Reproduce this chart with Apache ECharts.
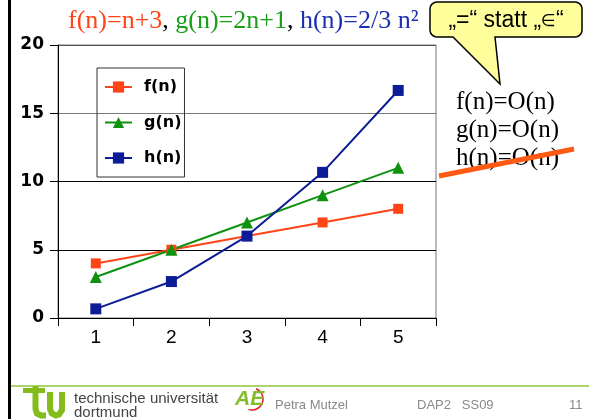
<!DOCTYPE html>
<html>
<head>
<meta charset="utf-8">
<script src="https://cdn.jsdelivr.net/npm/echarts@6/dist/echarts.min.js"></script>
<style>
  html, body { margin: 0; padding: 0; background: #fff; }
  #chart { width: 589px; height: 419px; }
</style>
</head>
<body>
<div id="chart"></div>
<script>
// values
const categories = ['1', '2', '3', '4', '5'];
const fValues = [4, 5, 6, 7, 8];
const gValues = [3, 5, 7, 9, 11];
const hValues = [0.67, 2.67, 6, 10.67, 16.67];
const seriesNames = ['f(n)', 'g(n)', 'h(n)'];
const rightNotes = ['f(n)=O(n)', 'g(n)=O(n)', 'h(n)=O(n)'];

const RED = '#ff4418';
const GREEN = '#0f920f';
const BLUE = '#0c1c96';
const SERIF = '"Liberation Serif", "DejaVu Serif", serif';
const SANS = '"Liberation Sans", Arial, sans-serif';

// rounded box with a tail, as a point list for a polygon
function bubblePoints(x0, y0, x1, y1, r, tail) {
  var pts = [];
  function corner(cx, cy, a0) {
    for (var i = 0; i <= 6; i++) {
      var a = a0 + (Math.PI / 2) * (i / 6);
      pts.push([cx + r * Math.cos(a), cy + r * Math.sin(a)]);
    }
  }
  corner(x0 + r, y0 + r, Math.PI);
  corner(x1 - r, y0 + r, -Math.PI / 2);
  corner(x1 - r, y1 - r, 0);
  pts.push([tail[2], y1], [tail[1][0], tail[1][1]], [tail[0], y1]);
  corner(x0 + r, y1 - r, Math.PI / 2);
  return pts;
}

var chartDom = document.getElementById('chart');
var myChart = echarts.init(chartDom, null, { renderer: 'canvas' });

var option = {
  animation: false,
  grid: {
    left: 58,
    right: 153,
    top: 45,
    bottom: 101,
    show: true,
    borderColor: '#777',
    borderWidth: 1
  },
  legend: {
    data: seriesNames,
    orient: 'vertical',
    left: 97,
    top: 68,
    padding: [9, 3, 9, 7],
    itemGap: 15.5,
    itemWidth: 27,
    itemHeight: 14,
    borderColor: '#333',
    borderWidth: 1,
    textStyle: {
      fontFamily: '"DejaVu Sans", sans-serif',
      fontWeight: 'bold',
      fontSize: 16,
      lineHeight: 20,
      color: '#000',
      padding: [0, 0, 0, 7]
    }
  },
  xAxis: {
    type: 'category',
    data: categories,
    boundaryGap: true,
    axisLine: { lineStyle: { color: '#000', width: 1 } },
    axisTick: { show: true, length: 8, lineStyle: { color: '#000' } },
    axisLabel: { fontFamily: SANS, fontSize: 19, color: '#000', margin: 10 }
  },
  yAxis: {
    type: 'value',
    min: 0,
    max: 20,
    interval: 5,
    axisLine: { show: true, lineStyle: { color: '#000', width: 1 } },
    axisTick: { show: true, length: 8, lineStyle: { color: '#000' } },
    axisLabel: {
      fontFamily: '"DejaVu Sans", sans-serif',
      fontWeight: 'bold',
      fontSize: 17,
      color: '#000',
      margin: 14
    },
    splitLine: {
      show: true,
      lineStyle: { color: ['#000', '#000', '#000', '#777', '#555'], width: 1 }
    }
  },
  series: [
    {
      name: seriesNames[0], type: 'line', data: fValues,
      color: RED, symbol: 'rect', symbolSize: 10,
      lineStyle: { width: 2 }
    },
    {
      name: seriesNames[1], type: 'line', data: gValues,
      color: GREEN, symbol: 'triangle', symbolSize: 12,
      lineStyle: { width: 2 }
    },
    {
      name: seriesNames[2], type: 'line', data: hValues,
      color: BLUE, symbol: 'rect', symbolSize: 11,
      lineStyle: { width: 2 }
    }
  ],
  graphic: [
    // left slide bar
    { type: 'rect', shape: { x: 8, y: 0, width: 3, height: 419 }, style: { fill: '#000' } },
    // heading with the three functions
    {
      type: 'text', x: 68, y: 21,
      style: {
        text: '{f|f(n)=n+3}, {g|g(n)=2n+1}, {h|h(n)=2/3 n²}',
        font: '26px ' + SERIF,
        fill: '#000',
        verticalAlign: 'middle',
        rich: {
          f: { fill: RED, font: '26px ' + SERIF },
          g: { fill: '#1a9e1a', font: '26px ' + SERIF },
          h: { fill: '#1c2fb0', font: '26px ' + SERIF }
        }
      }
    },
    // speech bubble
    {
      type: 'polygon',
      shape: { points: bubblePoints(430, 2, 582, 37, 7, [453, [500, 84], 495]) },
      style: { fill: '#ffff9c', stroke: '#000', lineWidth: 1.5 }
    },
    {
      type: 'text', x: 506, y: 21,
      style: {
        text: '\u201E=\u201C statt \u201E{e|\u2208}\u201C',
        font: '23px ' + SANS, fill: '#000',
        align: 'center', verticalAlign: 'middle',
        rich: { e: { font: '17px "DejaVu Sans", sans-serif', fill: '#000', padding: [2, 0, 0, 0] } }
      }
    },
    // O-notation notes
    {
      type: 'text', x: 456, y: 102,
      style: { text: rightNotes[0], font: '25px ' + SERIF, fill: '#000', verticalAlign: 'middle' }
    },
    {
      type: 'text', x: 456, y: 130,
      style: { text: rightNotes[1], font: '25px ' + SERIF, fill: '#000', verticalAlign: 'middle' }
    },
    {
      type: 'text', x: 456, y: 158,
      style: { text: rightNotes[2], font: '25px ' + SERIF, fill: '#000', verticalAlign: 'middle' }
    },
    {
      type: 'line', shape: { x1: 439, y1: 176, x2: 574, y2: 149 },
      style: { stroke: '#ff5a14', lineWidth: 5 }
    },
    // footer
    {
      type: 'line', shape: { x1: 11, y1: 386, x2: 589, y2: 386 },
      style: { stroke: '#8cc63e', lineWidth: 1.5 }
    },
    {
      type: 'line', shape: { x1: 23, y1: 390.5, x2: 45, y2: 390.5 },
      style: { stroke: '#84bc1c', lineWidth: 5 }
    },
    {
      type: 'polyline',
      shape: { points: [[35.5, 386], [35.5, 409], [37, 413.5], [41, 415.5], [46, 415.5]] },
      style: { stroke: '#84bc1c', lineWidth: 6, fill: null }
    },
    {
      type: 'polyline',
      shape: { points: [[50, 392], [50, 409], [52, 413.5], [56, 415.5], [59, 414.5], [62, 410], [62, 392]] },
      style: { stroke: '#84bc1c', lineWidth: 6, fill: null }
    },
    {
      type: 'text', x: 74, y: 399,
      style: { text: 'technische universität', font: '15px ' + SANS, fill: '#444', verticalAlign: 'middle' }
    },
    {
      type: 'text', x: 74, y: 413,
      style: { text: 'dortmund', font: '15px ' + SANS, fill: '#444', verticalAlign: 'middle' }
    },
    {
      type: 'arc', shape: { cx: 252, cy: 399, r: 11, startAngle: -1.2, endAngle: 1.9 },
      style: { stroke: '#e02020', lineWidth: 1.5, fill: null }
    },
    {
      type: 'text', x: 235, y: 399,
      style: { text: 'AE', font: 'italic bold 21px ' + SANS, fill: '#86bd2a', verticalAlign: 'middle' }
    },
    {
      type: 'text', x: 275, y: 405,
      style: { text: 'Petra Mutzel', font: '13px ' + SANS, fill: '#8a8a8a', verticalAlign: 'middle' }
    },
    {
      type: 'text', x: 417, y: 405,
      style: { text: 'DAP2   SS09', font: '13px ' + SANS, fill: '#8a8a8a', verticalAlign: 'middle' }
    },
    {
      type: 'text', x: 569, y: 405,
      style: { text: '11', font: '13px ' + SANS, fill: '#8a8a8a', verticalAlign: 'middle' }
    }
  ]
};

option && myChart.setOption(option);
</script>
</body>
</html>
